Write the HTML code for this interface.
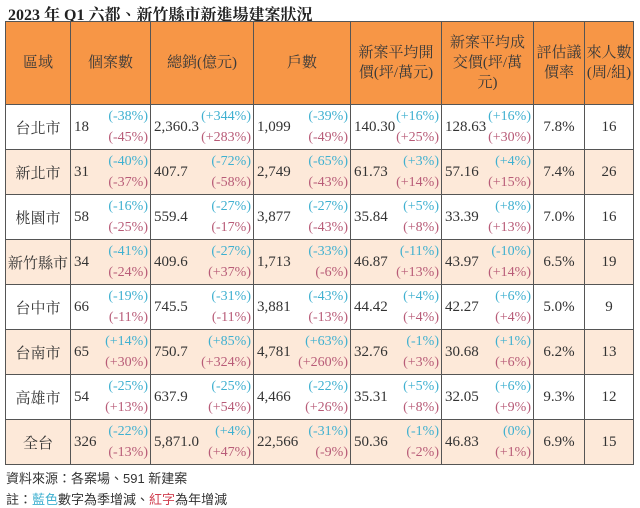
<!DOCTYPE html>
<html><head><meta charset="utf-8"><style>
body{margin:0;width:640px;height:507px;background:#fff;overflow:hidden;font-family:"Liberation Serif","Noto Serif CJK TC",serif;color:#333}
.title{position:absolute;left:8px;top:2px;font-size:16px;font-weight:bold;color:#222}
table{position:absolute;left:5px;top:21px;border-collapse:collapse;table-layout:fixed}
td{border:1px solid #555;padding:0;height:44px;font-size:15px;vertical-align:middle}
tr.h td{background:#F79646;height:82px;text-align:center;font-size:15px;line-height:20px;color:#3a3a3a}
tr.o td{background:#FDE9D9}
.c{text-align:center}
.d{display:flex;align-items:center;justify-content:space-between;padding:0 2px 0 3px}
.p{text-align:right;font-size:14px;line-height:21px}
.b{color:#3fb0d0}.r{color:#b85c78}
.f{position:absolute;left:6px;font-family:"Liberation Sans","Noto Sans CJK TC",sans-serif;font-size:13px;color:#333}
</style></head><body>
<div class="title">2023 年 Q1 六都、新竹縣市新進場建案狀況</div>
<table>
<colgroup><col style="width:65px"><col style="width:80px"><col style="width:103px"><col style="width:97px"><col style="width:91px"><col style="width:92px"><col style="width:51px"><col style="width:49px"></colgroup>
<tr class="h"><td>區域</td><td>個案數</td><td>總銷(億元)</td><td>戶數</td><td>新案平均開<br>價(坪/萬元)</td><td>新案平均成<br>交價(坪/萬<br>元)</td><td>評估議<br>價率</td><td>來人數<br>(周/組)</td></tr>
<tr><td class="c">台北市</td><td><div class="d">18<div class="p"><div class="b">(-38%)</div><div class="r">(-45%)</div></div></div></td><td><div class="d">2,360.3<div class="p"><div class="b">(+344%)</div><div class="r">(+283%)</div></div></div></td><td><div class="d">1,099<div class="p"><div class="b">(-39%)</div><div class="r">(-49%)</div></div></div></td><td><div class="d">140.30<div class="p"><div class="b">(+16%)</div><div class="r">(+25%)</div></div></div></td><td><div class="d">128.63<div class="p"><div class="b">(+16%)</div><div class="r">(+30%)</div></div></div></td><td class="c">7.8%</td><td class="c">16</td></tr>
<tr class="o"><td class="c">新北市</td><td><div class="d">31<div class="p"><div class="b">(-40%)</div><div class="r">(-37%)</div></div></div></td><td><div class="d">407.7<div class="p"><div class="b">(-72%)</div><div class="r">(-58%)</div></div></div></td><td><div class="d">2,749<div class="p"><div class="b">(-65%)</div><div class="r">(-43%)</div></div></div></td><td><div class="d">61.73<div class="p"><div class="b">(+3%)</div><div class="r">(+14%)</div></div></div></td><td><div class="d">57.16<div class="p"><div class="b">(+4%)</div><div class="r">(+15%)</div></div></div></td><td class="c">7.4%</td><td class="c">26</td></tr>
<tr><td class="c">桃園市</td><td><div class="d">58<div class="p"><div class="b">(-16%)</div><div class="r">(-25%)</div></div></div></td><td><div class="d">559.4<div class="p"><div class="b">(-27%)</div><div class="r">(-17%)</div></div></div></td><td><div class="d">3,877<div class="p"><div class="b">(-27%)</div><div class="r">(-43%)</div></div></div></td><td><div class="d">35.84<div class="p"><div class="b">(+5%)</div><div class="r">(+8%)</div></div></div></td><td><div class="d">33.39<div class="p"><div class="b">(+8%)</div><div class="r">(+13%)</div></div></div></td><td class="c">7.0%</td><td class="c">16</td></tr>
<tr class="o"><td class="c">新竹縣市</td><td><div class="d">34<div class="p"><div class="b">(-41%)</div><div class="r">(-24%)</div></div></div></td><td><div class="d">409.6<div class="p"><div class="b">(-27%)</div><div class="r">(+37%)</div></div></div></td><td><div class="d">1,713<div class="p"><div class="b">(-33%)</div><div class="r">(-6%)</div></div></div></td><td><div class="d">46.87<div class="p"><div class="b">(-11%)</div><div class="r">(+13%)</div></div></div></td><td><div class="d">43.97<div class="p"><div class="b">(-10%)</div><div class="r">(+14%)</div></div></div></td><td class="c">6.5%</td><td class="c">19</td></tr>
<tr><td class="c">台中市</td><td><div class="d">66<div class="p"><div class="b">(-19%)</div><div class="r">(-11%)</div></div></div></td><td><div class="d">745.5<div class="p"><div class="b">(-31%)</div><div class="r">(-11%)</div></div></div></td><td><div class="d">3,881<div class="p"><div class="b">(-43%)</div><div class="r">(-13%)</div></div></div></td><td><div class="d">44.42<div class="p"><div class="b">(+4%)</div><div class="r">(+4%)</div></div></div></td><td><div class="d">42.27<div class="p"><div class="b">(+6%)</div><div class="r">(+4%)</div></div></div></td><td class="c">5.0%</td><td class="c">9</td></tr>
<tr class="o"><td class="c">台南市</td><td><div class="d">65<div class="p"><div class="b">(+14%)</div><div class="r">(+30%)</div></div></div></td><td><div class="d">750.7<div class="p"><div class="b">(+85%)</div><div class="r">(+324%)</div></div></div></td><td><div class="d">4,781<div class="p"><div class="b">(+63%)</div><div class="r">(+260%)</div></div></div></td><td><div class="d">32.76<div class="p"><div class="b">(-1%)</div><div class="r">(+3%)</div></div></div></td><td><div class="d">30.68<div class="p"><div class="b">(+1%)</div><div class="r">(+6%)</div></div></div></td><td class="c">6.2%</td><td class="c">13</td></tr>
<tr><td class="c">高雄市</td><td><div class="d">54<div class="p"><div class="b">(-25%)</div><div class="r">(+13%)</div></div></div></td><td><div class="d">637.9<div class="p"><div class="b">(-25%)</div><div class="r">(+54%)</div></div></div></td><td><div class="d">4,466<div class="p"><div class="b">(-22%)</div><div class="r">(+26%)</div></div></div></td><td><div class="d">35.31<div class="p"><div class="b">(+5%)</div><div class="r">(+8%)</div></div></div></td><td><div class="d">32.05<div class="p"><div class="b">(+6%)</div><div class="r">(+9%)</div></div></div></td><td class="c">9.3%</td><td class="c">12</td></tr>
<tr class="o"><td class="c">全台</td><td><div class="d">326<div class="p"><div class="b">(-22%)</div><div class="r">(-13%)</div></div></div></td><td><div class="d">5,871.0<div class="p"><div class="b">(+4%)</div><div class="r">(+47%)</div></div></div></td><td><div class="d">22,566<div class="p"><div class="b">(-31%)</div><div class="r">(-9%)</div></div></div></td><td><div class="d">50.36<div class="p"><div class="b">(-1%)</div><div class="r">(-2%)</div></div></div></td><td><div class="d">46.83<div class="p"><div class="b">(0%)</div><div class="r">(+1%)</div></div></div></td><td class="c">6.9%</td><td class="c">15</td></tr>
</table>
<div class="f" style="top:468px">資料來源：各案場、591 新建案</div>
<div class="f" style="top:489px">註：<span style="color:#3fb0d0">藍色</span>數字為季增減、<span style="color:#d04050">紅字</span>為年增減</div>
</body></html>
